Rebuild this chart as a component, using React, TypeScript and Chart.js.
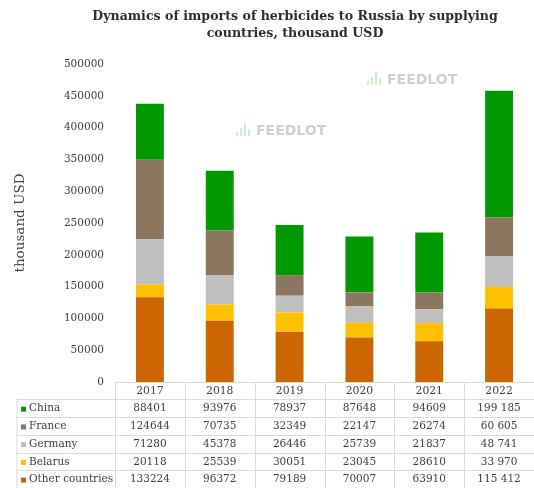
import React, { useEffect, useRef } from "react";
import { Chart, registerables } from "chart.js";

Chart.register(...registerables);

const years = ["2017", "2018", "2019", "2020", "2021", "2022"];
const seriesNames = ["China", "France", "Germany", "Belarus", "Other countries"];
const china = [88401, 93976, 78937, 87648, 94609, 199185];
const france = [124644, 70735, 32349, 22147, 26274, 60605];
const germany = [71280, 45378, 26446, 25739, 21837, 48741];
const belarus = [20118, 25539, 30051, 23045, 28610, 33970];
const other = [133224, 96372, 79189, 70007, 63910, 115412];
const seriesValues = [china, france, germany, belarus, other];
const seriesColors = ["#009a00", "#8b7660", "#bfbfbf", "#ffc000", "#cc6600"];
const titleLines = [
  "Dynamics of imports of herbicides to Russia by supplying",
  "countries, thousand USD",
];
const yTitle = "thousand USD";
const watermark = "FEEDLOT";

const SERIF = "'DejaVu Serif', serif";
const TEXT = "#404040";
const LINE = "#dedbd5";

const fmtCell = (v: number, col: number) =>
  col === years.length - 1
    ? String(v).replace(/\B(?=(\d{3})+(?!\d))/g, " ")
    : String(v);

const decorPlugin = {
  id: "decor",
  beforeDatasetsDraw(chart: any) {
    const ctx = chart.ctx;
    ctx.save();
    const marks = [
      [236, 131],
      [367, 80],
    ];
    for (const [mx, my] of marks) {
      ctx.fillStyle = "#c9f0c9";
      const hs = [4, 8, 13, 7];
      hs.forEach((h, i) => ctx.fillRect(mx + i * 4, my + 5 - h, 2, h));
      ctx.fillStyle = "#d0d0d0";
      ctx.font = "bold 14px 'DejaVu Sans', sans-serif";
      ctx.textBaseline = "middle";
      ctx.textAlign = "left";
      ctx.fillText(watermark, mx + 20, my);
    }
    ctx.restore();
  },
  afterDraw(chart: any) {
    const { ctx, chartArea } = chart;
    const x = chart.scales.x;
    ctx.save();
    // title
    ctx.fillStyle = "#2e2e2e";
    ctx.font = `bold 12.6px ${SERIF}`;
    ctx.textAlign = "center";
    ctx.textBaseline = "middle";
    ctx.fillText(titleLines[0], 295, 17);
    ctx.fillText(titleLines[1], 295, 33.5);

    // table
    const top = chartArea.bottom;
    const headerH = 17.3;
    const rowsTop = top + headerH;
    const rowH = (chart.height - rowsTop) / seriesNames.length;
    const colW = x.width / years.length;
    const labelLeft = 16.5;
    ctx.strokeStyle = LINE;
    ctx.lineWidth = 1;
    ctx.beginPath();
    ctx.moveTo(chartArea.left, top + 0.5);
    ctx.lineTo(chart.width, top + 0.5);
    for (let r = 0; r < seriesNames.length; r++) {
      const y = Math.round(rowsTop + r * rowH) + 0.5;
      ctx.moveTo(labelLeft, y);
      ctx.lineTo(chart.width, y);
    }
    ctx.moveTo(labelLeft + 0.5, rowsTop);
    ctx.lineTo(labelLeft + 0.5, chart.height);
    for (let c = 0; c < years.length; c++) {
      const cx = Math.round(x.getPixelForTick(c) - colW / 2) + 0.5;
      ctx.moveTo(cx, top);
      ctx.lineTo(cx, chart.height);
    }
    ctx.stroke();

    ctx.font = `10.5px ${SERIF}`;
    ctx.textBaseline = "middle";
    for (let r = 0; r < seriesNames.length; r++) {
      const cy = rowsTop + r * rowH + rowH / 2 + 0.5;
      ctx.fillStyle = seriesColors[r];
      ctx.fillRect(21, cy - 2, 5, 5);
      ctx.fillStyle = TEXT;
      ctx.textAlign = "left";
      ctx.fillText(seriesNames[r], 29, cy);
      ctx.textAlign = "center";
      seriesValues[r].forEach((v, c) => {
        ctx.fillText(fmtCell(v, c), x.getPixelForTick(c), cy);
      });
    }
    ctx.restore();
  },
};

export default function App() {
  const ref = useRef<HTMLCanvasElement>(null);
  useEffect(() => {
    const datasets = seriesNames
      .map((name, i) => ({
        label: name,
        data: seriesValues[i],
        backgroundColor: seriesColors[i],
        borderWidth: 0,
        categoryPercentage: 1,
        barPercentage: 0.4,
      }))
      .reverse();
    const chart = new Chart(ref.current!, {
      type: "bar",
      data: { labels: years, datasets },
      options: {
        animation: false,
        responsive: false,
        devicePixelRatio: 1,
        layout: { padding: { top: 64, left: 0, right: 0, bottom: 0 } },
        plugins: {
          legend: { display: false },
          tooltip: { enabled: false },
          title: { display: false },
        },
        scales: {
          x: {
            stacked: true,
            grid: { display: false, drawTicks: false },
            border: { display: false },
            ticks: {
              padding: 3,
              color: TEXT,
              font: { family: SERIF, size: 10.8 },
              maxRotation: 0,
            },
            afterFit: (s: any) => {
              s.height = 106;
            },
          },
          y: {
            stacked: true,
            min: 0,
            max: 500000,
            grid: { display: false, drawTicks: false },
            border: { display: false },
            ticks: {
              stepSize: 50000,
              padding: 11,
              color: TEXT,
              font: { family: SERIF, size: 10.5 },
              callback: (v: any) => String(v),
            },
            title: {
              display: true,
              text: yTitle,
              color: TEXT,
              font: { family: SERIF, size: 13.5 },
              padding: { top: 12, bottom: 0 },
            },
            afterFit: (s: any) => {
              s.width = 115;
            },
          },
        },
      },
      plugins: [decorPlugin],
    });
    return () => chart.destroy();
  }, []);
  return (
    <div style={{ position: "fixed", left: 0, top: 0, width: 534, height: 488, background: "#fff" }}>
      <canvas ref={ref} width={534} height={488} style={{ width: 534, height: 488 }} />
    </div>
  );
}
